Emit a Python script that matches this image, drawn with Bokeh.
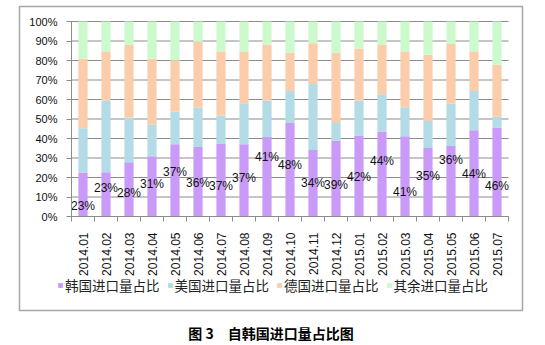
import math
from bokeh.plotting import figure
from bokeh.models import (ColumnDataSource, FixedTicker, NumeralTickFormatter, Legend,
                          LegendItem, Title, Range1d)
from bokeh.core.properties import value
from bokeh.embed import file_html
from bokeh.resources import INLINE

months = ["2014.01", "2014.02", "2014.03", "2014.04", "2014.05", "2014.06", "2014.07",
          "2014.08", "2014.09", "2014.10", "2014.11", "2014.12", "2015.01", "2015.02",
          "2015.03", "2015.04", "2015.05", "2015.06", "2015.07"]
korea = [22.6, 22.7, 27.8, 30.9, 37.1, 35.6, 37.2, 37.0, 40.8, 47.9, 34.1, 39.0, 41.6, 43.6,
         41.1, 35.1, 36.2, 44.2, 45.6]
usa = [22.7, 36.8, 23.0, 16.1, 16.7, 20.3, 14.6, 21.1, 18.7, 16.4, 33.9, 9.0, 17.9, 19.1,
       14.9, 13.9, 21.8, 20.1, 5.5]
germany = [35.6, 25.1, 37.1, 33.9, 26.2, 33.7, 32.8, 26.2, 28.7, 19.8, 20.9, 35.8, 26.7, 25.3,
           28.6, 33.9, 30.5, 20.3, 26.7]
others = [19.1, 15.4, 12.1, 19.1, 20.0, 10.4, 15.4, 15.7, 11.8, 15.9, 11.1, 16.2, 13.8, 12.0,
          15.4, 17.1, 11.5, 15.4, 22.2]
korea_labels = ["23%", "23%", "28%", "31%", "37%", "36%", "37%", "37%", "41%", "48%", "34%",
                "39%", "42%", "44%", "41%", "35%", "36%", "44%", "46%"]
# where each Korea label sits (percent height), as in the source
label_pos = [5.6, 14.4, 11.8, 16.9, 23.0, 17.4, 15.4, 20.0, 30.3, 26.2, 17.0, 16.2, 20.5, 28.7,
             12.8, 20.7, 29.2, 22.0, 15.4]
series_names = ["韩国进口量占比", "美国进口量占比", "德国进口量占比", "其余进口量占比"]
y_ticks = [0, 10, 20, 30, 40, 50, 60, 70, 80, 90, 100]
caption = "图 3　自韩国进口量占比图"

colors = ["#C99AF7", "#B3DCE7", "#FBCDAA", "#CCFACC"]
GRID = "#8C8C8C"

# layout (canvas pixels)
W, H = 545, 345
BOX_L, BOX_R, BOX_T, BOX_B = 19, 522, 6, 310      # outer chart box
CH_L, CH_R, CH_T, CH_B = 71, 508, 21, 216         # plotting area inside box

n = len(months)
px_per_x = (CH_R - CH_L) / n
px_per_y = (CH_B - CH_T) / 1.0
x_start = -0.5 - (CH_L - BOX_L) / px_per_x
x_end = n - 0.5 + (BOX_R - CH_R) / px_per_x
y_start = 0.0 - (BOX_B - CH_B) / px_per_y
y_end = 1.0 + (CH_T - BOX_T) / px_per_y

xs = list(range(n))
src = ColumnDataSource(dict(
    x=xs,
    korea=[v / 100 for v in korea],
    usa=[v / 100 for v in usa],
    germany=[v / 100 for v in germany],
    others=[v / 100 for v in others],
    lpos=[v / 100 for v in label_pos],
    ltext=korea_labels,
))

p = figure(width=W, height=H, output_backend="svg", toolbar_location=None,
           x_range=Range1d(x_start, x_end), y_range=Range1d(y_start, y_end),
           min_border_left=BOX_L, min_border_right=W - BOX_R, min_border_top=BOX_T,
           min_border_bottom=H - BOX_B)
p.title.visible = False
p.outline_line_color = "#A6A6A6"
p.outline_line_width = 1.5
p.background_fill_color = "white"
p.border_fill_color = "white"
p.xgrid.visible = False
p.ygrid.visible = False

# horizontal gridlines over the plotting area only
gy = [t / 100 for t in y_ticks]
p.segment(x0=[-0.5] * len(gy), x1=[n - 0.5] * len(gy), y0=gy, y1=gy,
          line_color=GRID, line_width=1)

rs = p.vbar_stack(["korea", "usa", "germany", "others"], x="x", width=0.4, color=colors,
                  line_color=None, source=src)

p.text(x="x", y="lpos", text="ltext", source=src, text_align="center", text_baseline="middle",
       text_font=value("Liberation Sans"), text_font_size="12px", text_color="#111111")

# y axis
yax = p.yaxis[0]
yax.fixed_location = -0.5
yax.bounds = (0, 1)
yax.ticker = FixedTicker(ticks=gy)
yax.formatter = NumeralTickFormatter(format="0%")
yax.axis_line_color = GRID
yax.major_tick_line_color = GRID
yax.major_tick_out = 5
yax.major_tick_in = 0
yax.minor_tick_line_color = None
yax.major_label_standoff = 9
yax.major_label_text_font = "Liberation Sans"
yax.major_label_text_font_size = "11px"
yax.major_label_text_color = "#111111"

# x axis
xax = p.xaxis[0]
xax.fixed_location = 0
xax.bounds = (-0.5, n - 0.5)
xax.ticker = FixedTicker(ticks=xs, minor_ticks=[i - 0.5 for i in range(n + 1)])
xax.major_label_overrides = {i: m for i, m in enumerate(months)}
xax.major_label_orientation = math.pi / 2
xax.axis_line_color = GRID
xax.major_tick_line_color = None
xax.major_tick_out = 0
xax.major_tick_in = 0
xax.minor_tick_line_color = GRID
xax.minor_tick_out = 5
xax.minor_tick_in = 0
xax.major_label_standoff = 11
xax.major_label_text_font = "Liberation Sans"
xax.major_label_text_font_size = "12px"
xax.major_label_text_color = "#111111"

legend = Legend(items=[LegendItem(label=nm, renderers=[r]) for nm, r in zip(series_names, rs)],
                orientation="horizontal", location=(38, 15), glyph_width=6, glyph_height=6,
                label_standoff=2, spacing=7, padding=0, margin=0, border_line_color=None,
                background_fill_alpha=0, label_text_font="Noto Sans CJK SC", label_height=14,
                label_text_font_size="13.5px", label_text_color="#222222")
p.add_layout(legend)

# small blank spacer between the box and the caption
spacer = Title(text=" ", text_font_size="6px", standoff=0, text_color="white")
p.add_layout(spacer, "below")
cap = Title(text=caption, align="center", vertical_align="bottom", text_font="Noto Sans CJK SC",
            text_font_style="bold", text_font_size="14px", text_color="#000000",
            standoff=5)
p.add_layout(cap, "below")

open("out.html", "w").write(file_html(p, INLINE))
